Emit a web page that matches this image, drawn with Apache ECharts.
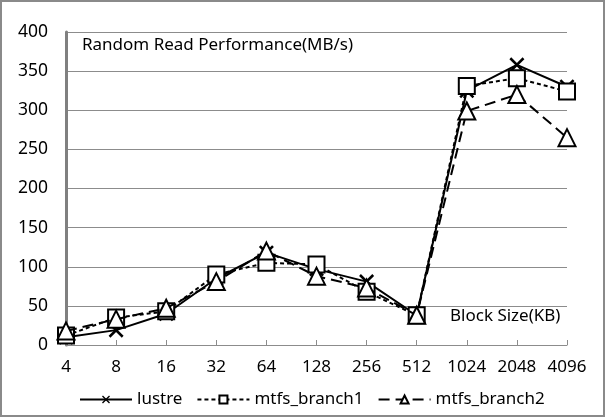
<!DOCTYPE html>
<html>
<head>
<meta charset="utf-8">
<script src="https://cdn.jsdelivr.net/npm/echarts@6/dist/echarts.min.js"></script>
<style>
html,body{margin:0;padding:0;background:#fff;}
#wrap{position:absolute;left:0;top:0;width:601px;height:413px;border:2px solid #8a8a8a;}
#chart{width:601px;height:413px;}
</style>
</head>
<body>
<div id="wrap"><div id="chart"></div></div>
<script>
const categories = ['4','8','16','32','64','128','256','512','1024','2048','4096'];
const lustre = [10, 19, 40, 85, 118, 97, 81, 38, 325, 358, 330];
const mtfsBranch1 = [12, 35, 43, 90, 105, 103, 68, 38, 331, 341, 324];
const mtfsBranch2 = [18, 33, 47, 81, 120, 88, 73, 38, 299, 320, 265];
const yTicks = { min: 0, max: 400, interval: 50 };

const FONT = 'Noto Sans';
const crossPath = 'path://M0,1.2 L1.2,0 L10,8.8 L8.8,10 Z M8.8,0 L10,1.2 L1.2,10 L0,8.8 Z';

const chart = echarts.init(document.getElementById('chart'), null, {renderer: 'canvas'});
chart.setOption({
  animation: false,
  backgroundColor: '#fff',
  grid: { left: 64, right: 36, top: 30, bottom: 70, containLabel: false },
  xAxis: {
    type: 'category',
    data: categories,
    boundaryGap: false,
    axisLine: { show: true, lineStyle: { color: '#8c8c8c', width: 1 } },
    axisTick: { show: true, inside: true, length: 5, interval: 0, lineStyle: { color: '#8c8c8c' } },
    axisLabel: { color: '#000', fontFamily: FONT, fontSize: 17, margin: 14, interval: 0, hideOverlap: false },
    splitLine: { show: false }
  },
  yAxis: {
    type: 'value',
    min: yTicks.min, max: yTicks.max, interval: yTicks.interval,
    axisLine: { show: true, lineStyle: { color: '#808080', width: 3 } },
    axisTick: { show: false },
    axisLabel: { color: '#000', fontFamily: FONT, fontSize: 17.5, margin: 18 },
    splitLine: { show: true, lineStyle: { color: '#8c8c8c', width: 1 } }
  },
  legend: {
    left: 72, top: 384,
    itemWidth: 52, itemHeight: 10, itemGap: 14,
    textStyle: { color: '#000', fontFamily: FONT, fontSize: 17 },
    data: ['lustre', 'mtfs_branch1', 'mtfs_branch2']
  },
  graphic: [
    { type: 'text', left: 80, top: 35, style: { text: 'Random Read Performance(MB/s)', font: '17px "Noto Sans"', fill: '#000' } },
    { type: 'text', left: 448, top: 306, style: { text: 'Block Size(KB)', font: '17px "Noto Sans"', fill: '#000' } }
  ],
  series: [
    {
      name: 'lustre', type: 'line', data: lustre,
      symbol: crossPath, symbolSize: 15,
      lineStyle: { color: '#000', width: 2, type: 'solid' },
      itemStyle: { color: '#000', borderWidth: 0 },
      z: 3
    },
    {
      name: 'mtfs_branch1', type: 'line', data: mtfsBranch1,
      symbol: 'rect', symbolSize: 16,
      lineStyle: { color: '#000', width: 2, type: [4, 3] },
      itemStyle: { color: '#fff', borderColor: '#000', borderWidth: 2 },
      z: 4
    },
    {
      name: 'mtfs_branch2', type: 'line', data: mtfsBranch2,
      symbol: 'triangle', symbolSize: 17,
      lineStyle: { color: '#000', width: 2, type: [11, 6] },
      itemStyle: { color: '#fff', borderColor: '#000', borderWidth: 2 },
      z: 5
    }
  ]
});
</script>
</body>
</html>
